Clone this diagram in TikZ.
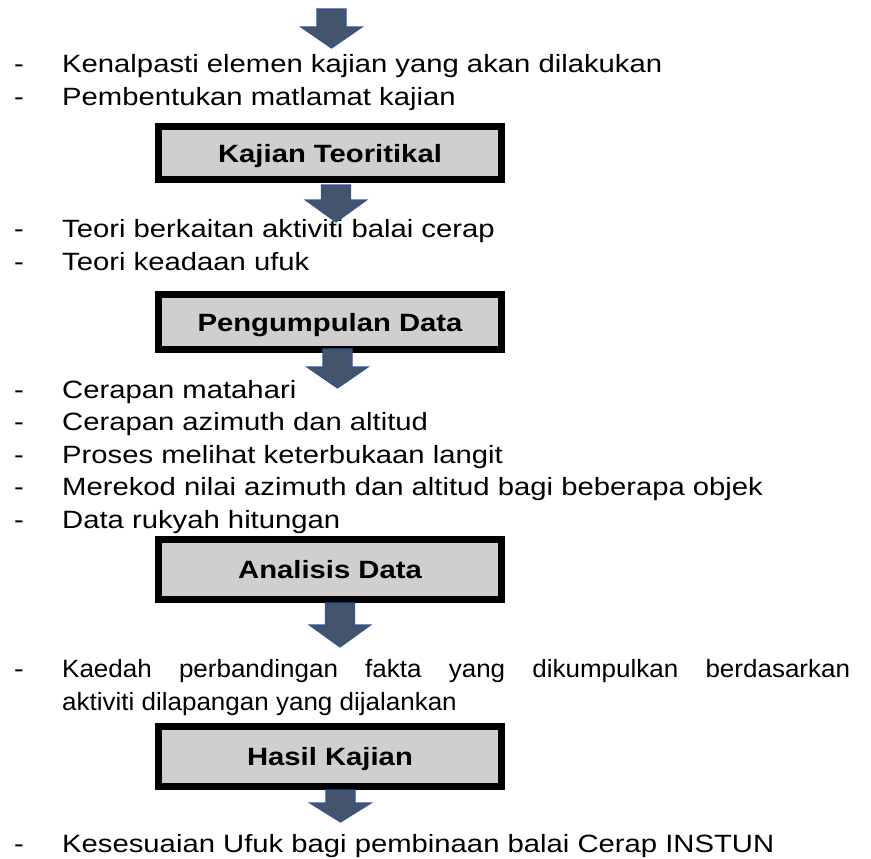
\documentclass[tikz,border=0pt]{standalone}
\usepackage{fontspec}
\setmainfont{Liberation Sans}[FakeStretch=1.17]
\newfontfamily\narrowfont{Liberation Sans}[FakeStretch=1.04]
\usetikzlibrary{positioning}
\definecolor{boxgray}{HTML}{D0CECE}
\definecolor{arrowfill}{HTML}{44546A}
\definecolor{arrowline}{HTML}{2F5597}

\tikzset{
  pics/blkarrow/.style n args={2}{code={
    \filldraw[fill=arrowfill, draw=arrowline, line width=1.2pt]
      (-14.5,0) -- (14.5,0) -- (14.5,#1) -- (30.5,#1) -- (0,#2) -- (-30.5,#1) -- (-14.5,#1) -- cycle;
  }},
  stagebox/.style={draw, line width=7pt, fill=boxgray, minimum width=343pt, minimum height=55pt,
    text height=18pt, text depth=0pt, font=\fontsize{25}{30}\selectfont\bfseries},
  item/.style={anchor=base west, inner sep=0pt},
}

\begin{document}
\begin{tikzpicture}[x=1pt, y=-1pt, font=\fontsize{25}{30}\selectfont]
        \useasboundingbox (0,0) rectangle (871,859);
        \draw (14, 73) node(d1)[item]{-};
        \draw (62, 73) node(kenal)[item]{Kenalpasti elemen kajian yang akan dilakukan};
        \draw (14, 106) node(d2)[item]{-};
        \draw (62, 106) node(bentuk)[item]{Pembentukan matlamat kajian};
        \draw (330, 153) node(teori)[stagebox, minimum height=53pt]{Kajian Teoritikal};
        \draw (14, 237) node(d3)[item]{-};
        \draw (62, 237) node(teori1)[item]{Teori berkaitan aktiviti balai cerap};
        \draw (14, 270) node(d4)[item]{-};
        \draw (62, 270) node(teori2)[item]{Teori keadaan ufuk};
        \draw (330, 322) node(kumpul)[stagebox]{Pengumpulan Data};
        \draw (14, 398) node(d5)[item]{-};
        \draw (62, 398) node(data1)[item]{Cerapan matahari};
        \draw (14, 430.5) node(d6)[item]{-};
        \draw (62, 430.5) node(data2)[item]{Cerapan azimuth dan altitud};
        \draw (14, 463) node(d7)[item]{-};
        \draw (62, 463) node(data3)[item]{Proses melihat keterbukaan langit};
        \draw (14, 495.5) node(d8)[item]{-};
        \draw (62, 495.5) node(data4)[item]{Merekod nilai azimuth dan altitud bagi beberapa objek};
        \draw (14, 528) node(d9)[item]{-};
        \draw (62, 528) node(data5)[item]{Data rukyah hitungan};
        \draw (330, 569.5) node(analisis)[stagebox, minimum height=60pt]{Analisis Data};
        \draw (14, 677) node(d10)[item]{-};
        \draw (62, 677) node(kaedah)[item, text width=788pt, align=justify,
          font=\narrowfont\fontsize{25}{33}\selectfont]{Kaedah perbandingan fakta yang dikumpulkan berdasarkan\linebreak aktiviti dilapangan yang dijalankan};
        \draw (330, 756.5) node(hasil)[stagebox, minimum height=60pt]{Hasil Kajian};
        \draw (14, 852) node(d11)[item]{-};
        \draw (62, 852) node(sesuai)[item]{Kesesuaian Ufuk bagi pembinaan balai Cerap INSTUN};
        \pic at (331.5, 9) {blkarrow={18}{39}};
        \pic at (336, 185) {blkarrow={15}{37}};
        \pic at (337.5, 349) {blkarrow={18}{39}};
        \pic at (340, 603) {blkarrow={22}{44}};
        \pic at (340.5, 790) {blkarrow={13}{32}};
    \end{tikzpicture}
\end{document}
